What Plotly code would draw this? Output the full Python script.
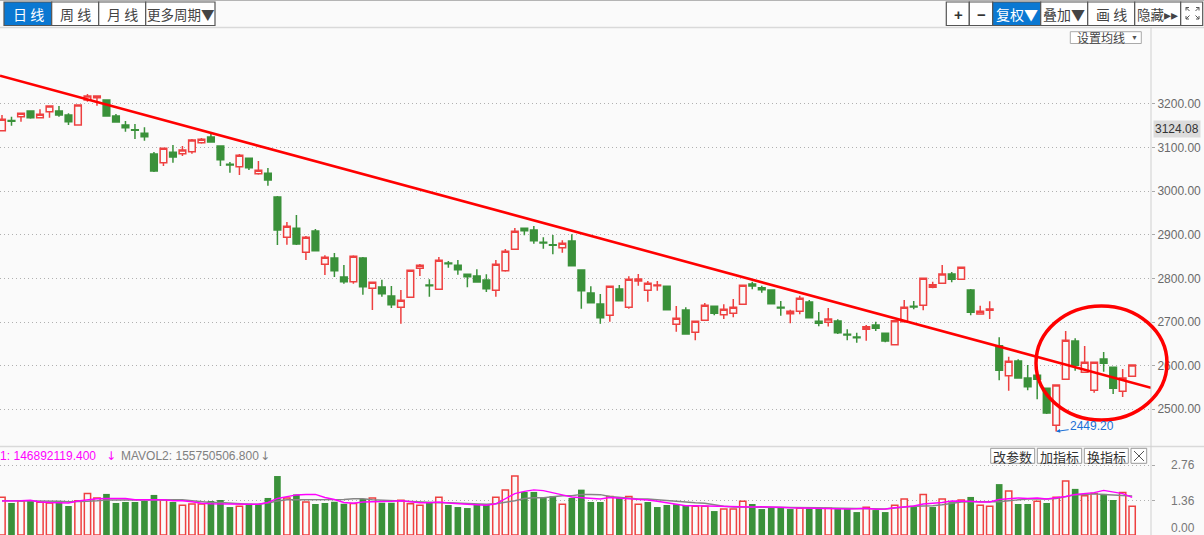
import plotly.graph_objects as go

# ---------------- data ----------------
idx = list(range(120))

opens = [3138.8, 3162.2, 3170.9, 3184.0, 3168.6, 3182.4, 3184.0, 3174.8, 3151.9, 3209.2,
         3214.5, 3209.2, 3172.5, 3151.9, 3141.1, 3132.8, 3085.4, 3065.4, 3089.3, 3086.1,
         3090.7, 3111.3, 3124.4, 3103.7, 3061.8, 3056.3, 3075.5, 3040.2, 3041.1, 2986.8,
         2894.4, 2915.0, 2860.0, 2908.8, 2832.5, 2846.9, 2803.4, 2792.6, 2846.9, 2777.4,
         2780.4, 2759.8, 2733.9, 2756.8, 2823.3, 2785.0, 2775.1, 2835.4, 2830.2, 2809.5,
         2805.6, 2796.5, 2772.8, 2817.8, 2866.9, 2915.0, 2911.1, 2882.9, 2877.4, 2870.5,
         2885.9, 2819.4, 2766.7, 2741.4, 2715.5, 2775.8, 2733.9, 2794.2, 2772.8, 2783.4,
         2782.0, 2694.9, 2727.7, 2676.5, 2704.0, 2736.1, 2716.9, 2720.1, 2740.7, 2787.3,
         2778.8, 2773.5, 2733.9, 2719.2, 2724.7, 2746.0, 2701.8, 2699.5, 2702.4, 2671.9,
         2665.8, 2683.4, 2693.3, 2674.2, 2648.1, 2700.9, 2736.1, 2738.4, 2779.7, 2788.9,
         2810.2, 2798.0, 2773.5, 2718.5, 2727.0, 2645.8, 2577.0, 2610.7, 2571.8, 2577.9,
         2548.2, 2463.3, 2568.8, 2656.6, 2584.8, 2543.5, 2615.3, 2596.3, 2541.2, 2575.7]

highs = [3174.8, 3170.9, 3179.5, 3184.5, 3187.9, 3197.0, 3195.4, 3178.7, 3198.9, 3223.0,
         3219.5, 3210.3, 3177.1, 3161.0, 3154.2, 3146.6, 3090.0, 3099.8, 3106.0, 3103.7,
         3119.8, 3122.1, 3131.9, 3104.9, 3067.0, 3085.4, 3076.2, 3069.3, 3053.3, 2989.1,
         2929.5, 2945.5, 2897.4, 2913.4, 2853.1, 2858.4, 2830.9, 2853.1, 2849.2, 2791.9,
         2797.1, 2782.7, 2773.5, 2819.4, 2833.2, 2798.0, 2849.2, 2840.0, 2842.3, 2810.2,
         2821.0, 2809.5, 2842.3, 2867.5, 2915.7, 2915.7, 2920.3, 2894.4, 2899.6, 2887.5,
         2901.3, 2820.5, 2782.0, 2764.4, 2782.7, 2785.0, 2804.9, 2810.2, 2794.2, 2794.2,
         2782.7, 2736.8, 2733.9, 2702.4, 2743.7, 2736.8, 2740.7, 2752.9, 2785.0, 2792.6,
         2783.4, 2775.1, 2748.3, 2728.4, 2760.5, 2750.6, 2723.1, 2732.3, 2706.3, 2683.4,
         2675.6, 2693.3, 2700.9, 2674.9, 2703.6, 2750.6, 2748.3, 2801.0, 2792.6, 2830.9,
         2814.8, 2826.3, 2775.8, 2737.5, 2747.6, 2665.1, 2620.6, 2614.6, 2601.6, 2578.6,
         2548.9, 2556.4, 2679.5, 2662.8, 2645.1, 2608.4, 2631.4, 2597.0, 2592.4, 2602.3]

lows = [3137.0, 3150.3, 3159.4, 3166.3, 3167.5, 3168.6, 3170.9, 3151.9, 3150.3, 3205.3,
        3196.1, 3171.4, 3157.1, 3136.5, 3119.8, 3115.9, 3044.1, 3057.9, 3065.4, 3080.8,
        3086.1, 3109.0, 3111.8, 3057.9, 3042.5, 3037.2, 3048.7, 3037.9, 3012.7, 2876.7,
        2877.4, 2876.7, 2842.3, 2863.0, 2807.9, 2803.4, 2788.0, 2788.0, 2762.8, 2727.7,
        2758.2, 2732.3, 2696.3, 2756.3, 2805.6, 2758.2, 2774.7, 2824.7, 2808.6, 2779.7,
        2790.3, 2768.9, 2758.2, 2815.5, 2866.4, 2899.0, 2879.7, 2868.2, 2855.4, 2859.1,
        2828.6, 2730.7, 2743.7, 2696.3, 2700.9, 2748.3, 2730.7, 2783.4, 2746.7, 2771.9,
        2727.0, 2677.9, 2671.0, 2658.2, 2702.4, 2715.5, 2707.1, 2711.0, 2740.3, 2775.1,
        2767.3, 2741.4, 2714.6, 2697.2, 2717.8, 2709.3, 2690.3, 2689.8, 2672.6, 2658.2,
        2652.7, 2657.3, 2679.5, 2653.6, 2647.4, 2700.2, 2729.3, 2727.0, 2777.4, 2788.4,
        2791.2, 2797.6, 2715.5, 2717.8, 2707.1, 2566.5, 2542.6, 2571.1, 2543.5, 2522.9,
        2489.2, 2449.2, 2568.3, 2588.5, 2584.4, 2538.1, 2586.2, 2535.1, 2528.2, 2575.2]

closes = [3164.9, 3160.4, 3178.7, 3168.6, 3176.4, 3195.4, 3174.8, 3159.4, 3197.7, 3218.4,
          3218.4, 3172.5, 3158.7, 3145.7, 3139.7, 3125.0, 3046.4, 3098.5, 3078.5, 3094.6,
          3117.5, 3119.1, 3112.9, 3072.3, 3060.2, 3082.4, 3054.0, 3048.0, 3025.8, 2911.1,
          2919.6, 2879.0, 2894.4, 2863.7, 2848.5, 2817.8, 2792.6, 2850.8, 2781.1, 2791.2,
          2765.0, 2739.8, 2749.9, 2818.7, 2830.2, 2783.4, 2841.6, 2833.8, 2820.1, 2804.0,
          2791.9, 2776.5, 2832.5, 2862.3, 2908.2, 2909.5, 2886.6, 2881.3, 2876.0, 2880.6,
          2829.3, 2771.9, 2744.4, 2709.9, 2782.0, 2749.0, 2798.0, 2798.8, 2788.9, 2785.0,
          2728.4, 2708.6, 2672.6, 2701.8, 2738.4, 2720.1, 2729.3, 2733.9, 2784.3, 2782.7,
          2774.2, 2742.1, 2732.3, 2724.7, 2754.5, 2709.9, 2697.2, 2707.1, 2675.6, 2670.4,
          2664.1, 2689.4, 2685.7, 2656.6, 2703.1, 2733.9, 2734.5, 2800.4, 2785.7, 2810.2,
          2798.0, 2825.6, 2722.4, 2724.7, 2730.0, 2589.4, 2610.0, 2571.8, 2551.8, 2568.8,
          2491.5, 2555.8, 2658.2, 2600.9, 2607.8, 2607.8, 2605.5, 2548.2, 2571.8, 2601.6]

# volume in units of 1e8 shares
volume = [1.50, 1.27, 1.35, 1.36, 1.30, 1.27, 1.30, 1.15, 1.36, 1.65,
          1.47, 1.63, 1.27, 1.31, 1.31, 1.36, 1.59, 1.39, 1.31, 1.18,
          1.23, 1.23, 1.35, 1.39, 1.11, 1.14, 1.24, 1.22, 1.47, 2.34,
          1.47, 1.61, 1.31, 1.23, 1.27, 1.32, 1.24, 1.25, 1.43, 1.47,
          1.28, 1.28, 1.38, 1.24, 1.18, 1.28, 1.50, 1.19, 1.11, 1.07,
          1.23, 1.19, 1.50, 1.79, 2.34, 1.71, 1.71, 1.50, 1.54, 1.22,
          1.47, 1.80, 1.31, 1.31, 1.53, 1.48, 1.53, 1.22, 1.31, 1.11,
          1.19, 1.22, 1.16, 1.14, 1.14, 0.95, 1.03, 1.03, 1.34, 1.23,
          1.03, 1.11, 1.11, 1.03, 1.06, 1.06, 1.06, 1.06, 1.06, 1.06,
          0.91, 1.10, 0.99, 0.91, 1.18, 1.43, 1.11, 1.61, 1.11, 1.43,
          1.30, 1.39, 1.51, 1.18, 1.14, 2.02, 1.75, 1.23, 1.23, 1.34,
          1.27, 1.50, 2.14, 1.83, 1.56, 1.65, 1.63, 1.39, 1.69, 1.14]

# 1 = red (up) volume bar, 0 = green (down)
volume_up = [1, 0, 1, 0, 1, 1, 0, 0, 1, 1,
             1, 0, 0, 0, 0, 0, 0, 1, 0, 1,
             1, 1, 0, 0, 0, 1, 0, 0, 0, 0,
             1, 0, 1, 0, 0, 0, 0, 1, 0, 1,
             0, 0, 1, 1, 1, 0, 1, 0, 0, 0,
             0, 0, 1, 1, 1, 0, 0, 0, 0, 1,
             0, 0, 0, 0, 1, 0, 1, 1, 0, 0,
             0, 0, 0, 1, 1, 0, 1, 1, 1, 0,
             0, 0, 0, 0, 1, 0, 0, 1, 0, 0,
             0, 1, 0, 0, 1, 1, 0, 1, 0, 1,
             0, 1, 0, 1, 1, 0, 1, 0, 0, 1,
             0, 1, 1, 0, 1, 1, 0, 0, 1, 1]

mavol1 = [1.35, 1.35, 1.36, 1.38, 1.31, 1.29, 1.28, 1.27, 1.35, 1.39,
          1.44, 1.45, 1.45, 1.45, 1.40, 1.40, 1.40, 1.40, 1.36, 1.36,
          1.32, 1.26, 1.24, 1.23, 1.22, 1.22, 1.22, 1.22, 1.29, 1.45,
          1.53, 1.59, 1.61, 1.61, 1.49, 1.41, 1.29, 1.26, 1.31, 1.32,
          1.31, 1.34, 1.36, 1.32, 1.28, 1.28, 1.31, 1.27, 1.23, 1.22,
          1.20, 1.18, 1.24, 1.43, 1.64, 1.73, 1.79, 1.76, 1.69, 1.59,
          1.51, 1.48, 1.46, 1.43, 1.49, 1.47, 1.46, 1.43, 1.39, 1.34,
          1.28, 1.23, 1.16, 1.16, 1.15, 1.12, 1.11, 1.10, 1.11, 1.11,
          1.12, 1.12, 1.10, 1.08, 1.07, 1.07, 1.06, 1.06, 1.04, 1.03,
          1.04, 1.06, 1.02, 1.03, 1.08, 1.11, 1.15, 1.23, 1.26, 1.29,
          1.35, 1.35, 1.34, 1.31, 1.31, 1.41, 1.45, 1.47, 1.45, 1.47,
          1.43, 1.47, 1.53, 1.61, 1.64, 1.68, 1.77, 1.72, 1.64, 1.49]

mavol2 = [1.36, 1.36, 1.36, 1.36, 1.34, 1.34, 1.34, 1.32, 1.32, 1.34,
          1.36, 1.39, 1.39, 1.39, 1.39, 1.40, 1.41, 1.41, 1.41, 1.40,
          1.36, 1.32, 1.29, 1.29, 1.26, 1.23, 1.22, 1.22, 1.27, 1.35,
          1.40, 1.40, 1.40, 1.41, 1.41, 1.41, 1.41, 1.44, 1.44, 1.40,
          1.38, 1.36, 1.34, 1.32, 1.31, 1.29, 1.28, 1.28, 1.27, 1.26,
          1.23, 1.22, 1.24, 1.29, 1.36, 1.45, 1.48, 1.48, 1.53, 1.56,
          1.56, 1.61, 1.61, 1.60, 1.53, 1.49, 1.46, 1.43, 1.43, 1.40,
          1.36, 1.32, 1.31, 1.28, 1.26, 1.19, 1.14, 1.11, 1.11, 1.10,
          1.10, 1.10, 1.10, 1.10, 1.10, 1.08, 1.08, 1.07, 1.06, 1.06,
          1.06, 1.06, 1.04, 1.03, 1.07, 1.12, 1.14, 1.15, 1.16, 1.20,
          1.26, 1.31, 1.32, 1.32, 1.32, 1.32, 1.36, 1.40, 1.43, 1.44,
          1.43, 1.45, 1.52, 1.59, 1.61, 1.63, 1.61, 1.60, 1.57, 1.55]

price_ticks = [2500, 2600, 2700, 2800, 2900, 3000, 3100, 3200]
price_tick_labels = ["2500.00", "2600.00", "2700.00", "2800.00", "2900.00", "3000.00", "3100.00", "3200.00"]
vol_ticks = [0.0, 1.36, 2.76]
vol_tick_labels = ["0.00", "1.36", "2.76"]

trend_x = [-0.21, 120.985]
trend_y = [3264.9, 2549.3]

low_index = 111
low_value = 2449.20
current_label = "3124.08"
mavol1_text = "MAVOL1: 146892119.400"
mavol2_text = "MAVOL2: 155750506.800"

# ---------------- styling ----------------
W, H = 1204, 535
ML, MR, MT, MB = 0, 53, 27, 0
PW = W - ML - MR
PH = H - MT - MB


def xp(px):
    return (px - ML) / PW


def yp(py):
    return (H - MB - py) / PH


RED = '#ee4040'
GREEN = '#3a913a'
BG = '#fafafa'
BLUE = '#0a78d2'
NUM = 'Liberation Sans, Arial, sans-serif'
CJK = 'Noto Sans CJK SC, sans-serif'

fig = go.Figure()

up = [i for i in idx if closes[i] >= opens[i]]
dn = [i for i in idx if closes[i] < opens[i]]


def sub(arr, sel):
    return [arr[i] for i in sel]


fig.add_trace(go.Candlestick(
    x=sub(idx, up), open=sub(opens, up), high=sub(highs, up), low=sub(lows, up), close=sub(closes, up),
    increasing=dict(line=dict(color=RED, width=1.5), fillcolor=BG),
    decreasing=dict(line=dict(color=RED, width=1.5), fillcolor=BG),
    hoverinfo='skip', showlegend=False, xaxis='x', yaxis='y'))
fig.add_trace(go.Candlestick(
    x=sub(idx, dn), open=sub(opens, dn), high=sub(highs, dn), low=sub(lows, dn), close=sub(closes, dn),
    increasing=dict(line=dict(color=GREEN, width=1.5), fillcolor=GREEN),
    decreasing=dict(line=dict(color=GREEN, width=1.5), fillcolor=GREEN),
    hoverinfo='skip', showlegend=False, xaxis='x', yaxis='y'))

fig.add_trace(go.Scatter(x=trend_x, y=trend_y, mode='lines', line=dict(color='#ff0000', width=2.6),
                         hoverinfo='skip', showlegend=False, xaxis='x', yaxis='y'))

vu = [i for i in idx if volume_up[i] == 1]
vd = [i for i in idx if volume_up[i] == 0]
fig.add_trace(go.Bar(x=sub(idx, vu), y=sub(volume, vu), width=0.66,
                     marker=dict(color=BG, line=dict(color=RED, width=1.5)),
                     hoverinfo='skip', showlegend=False, xaxis='x', yaxis='y2'))
fig.add_trace(go.Bar(x=sub(idx, vd), y=sub(volume, vd), width=0.70,
                     marker=dict(color=GREEN, line=dict(width=0)),
                     hoverinfo='skip', showlegend=False, xaxis='x', yaxis='y2'))
fig.add_trace(go.Scatter(x=idx, y=mavol2, mode='lines', line=dict(color='#858585', width=1.4),
                         hoverinfo='skip', showlegend=False, xaxis='x', yaxis='y2'))
fig.add_trace(go.Scatter(x=idx, y=mavol1, mode='lines', line=dict(color='#ff00ff', width=1.4),
                         hoverinfo='skip', showlegend=False, xaxis='x', yaxis='y2'))

shapes = []
annotations = []


def rect(x0, y0, x1, y1, fill, line='#555555', lw=1.2):
    shapes.append(dict(type='rect', xref='paper', yref='paper', x0=xp(x0), x1=xp(x1),
                       y0=yp(y1), y1=yp(y0), fillcolor=fill, line=dict(color=line, width=lw), layer='above'))


def hline(x0, x1, y, color, lw=1):
    shapes.append(dict(type='line', xref='paper', yref='paper', x0=xp(x0), x1=xp(x1), y0=yp(y), y1=yp(y),
                       line=dict(color=color, width=lw), layer='above'))


def seg(x0, y0, x1, y1, color, lw=1):
    shapes.append(dict(type='line', xref='paper', yref='paper', x0=xp(x0), x1=xp(x1), y0=yp(y0), y1=yp(y1),
                       line=dict(color=color, width=lw), layer='above'))


def txt(s, px, py, size=14, color='#444444', family=CJK, anchor='center', bg=None):
    a = dict(text=s, x=xp(px), y=yp(py), xref='paper', yref='paper', showarrow=False,
             xanchor=anchor, yanchor='middle', font=dict(size=size, color=color, family=family))
    if bg:
        a['bgcolor'] = bg
        a['borderpad'] = 1
    annotations.append(a)


# frame lines
hline(0, W, 0.5, '#b4b4b4', 1)
hline(0, W, 27.5, '#d9d9d9', 1.5)
hline(0, W, 446.5, '#d9d9d9', 1.5)
seg(1151, 27, 1151, 535, '#d0d0d0', 1)

# left toolbar
rect(4, 2, 51.7, 25.5, BLUE)
rect(51.7, 2, 98.7, 25.5, '#ffffff')
rect(98.7, 2, 145.7, 25.5, '#ffffff')
rect(145.7, 2, 215, 25.5, '#ffffff')
txt('日 线', 28, 14, color='#ffffff')
txt('周 线', 75, 14)
txt('月 线', 122, 14)
txt('更多周期▼', 180.5, 14, size=13.5)

# right toolbar
rect(946.3, 2, 969.3, 25.5, '#ffffff')
rect(969.3, 2, 992.7, 25.5, '#ffffff')
rect(992.7, 2, 1040.7, 25.5, BLUE)
rect(1040.7, 2, 1087.7, 25.5, '#ffffff')
rect(1087.7, 2, 1134.7, 25.5, '#ffffff')
rect(1134.7, 2, 1180.7, 25.5, '#ffffff')
rect(1180.7, 2, 1202.7, 25.5, '#ffffff')
txt('<b>+</b>', 958, 14, size=15, color='#333333', family=NUM)
txt('<b>−</b>', 981, 14, size=15, color='#333333', family=NUM)
txt('复权▼', 1017, 14, color='#ffffff')
txt('叠加▼', 1064, 14)
txt('画 线', 1111, 14)
txt('隐藏▸▸', 1157.5, 14, size=13.5)
# fullscreen icon
for (ax0, ay0, ax1, ay1) in [(1186, 10.5, 1186, 7.5), (1186, 7.5, 1189, 7.5), (1186, 7.5, 1189.5, 11),
                             (1199, 10.5, 1199, 7.5), (1199, 7.5, 1196, 7.5), (1199, 7.5, 1195.5, 11),
                             (1186, 16, 1186, 19), (1186, 19, 1189, 19), (1186, 19, 1189.5, 15.5),
                             (1199, 16, 1199, 19), (1199, 19, 1196, 19), (1199, 19, 1195.5, 15.5)]:
    seg(ax0, ay0, ax1, ay1, '#555555', 1)

# moving-average settings button
rect(1070.3, 31.7, 1141.3, 43.5, '#ffffff', '#aaaaaa', 1)
txt('设置均线', 1101, 37.6, size=12, color='#444444')
txt('▼', 1134, 37.6, size=7, color='#555555', family=NUM)

# indicator buttons
rect(990.7, 448.3, 1034.7, 463.3, '#ffffff', '#999999', 1)
rect(1037.3, 448.3, 1081.7, 463.3, '#ffffff', '#999999', 1)
rect(1084.3, 448.3, 1128.3, 463.3, '#ffffff', '#999999', 1)
rect(1131, 448.3, 1146.7, 463.3, '#ffffff', '#999999', 1)
txt('改参数', 1012.7, 456, size=13, color='#333333')
txt('加指标', 1059.5, 456, size=13, color='#333333')
txt('换指标', 1106.3, 456, size=13, color='#333333')
seg(1134, 451, 1144, 461, '#555555', 1)
seg(1144, 451, 1134, 461, '#555555', 1)

# volume legend
txt(mavol1_text, 98, 455.5, size=12, color='#ff00ff', family=NUM, anchor='right')
txt('↓', 110.5, 455.5, size=12, color='#ff00ff', family='DejaVu Sans')
txt(mavol2_text, 119, 455.5, size=12, color='#808080', family=NUM, anchor='left')
txt('↓', 265, 455.5, size=12, color='#808080', family='DejaVu Sans')

# volume axis labels
for v, lab in zip(vol_ticks, vol_tick_labels):
    ypx = H - v * 25.2
    if v == 0:
        ypx = 528.3
    txt(lab, 1197, ypx, size=12, color='#777777', family=NUM, anchor='right')

# current value box
txt(current_label, 1153, 128.5, size=12, color='#333333', family=NUM, anchor='left', bg='#dcdcdc')

# ellipse highlight
shapes.append(dict(type='circle', xref='paper', yref='paper', x0=xp(1036), x1=xp(1167), y0=yp(420), y1=yp(306),
                   line=dict(color='#ff0000', width=3.5), fillcolor='rgba(0,0,0,0)', layer='above'))

# lowest point label
annotations.append(dict(x=low_index, y=low_value, xref='x', yref='y', text='2449.20', showarrow=True,
                        arrowhead=2, arrowsize=0.8, arrowwidth=1, arrowcolor='#1a6fd6',
                        ax=36, ay=-5, xanchor='center', yanchor='middle',
                        font=dict(size=12, color='#1a6fd6', family=NUM)))

fig.update_layout(
    width=W, height=H, margin=dict(l=ML, r=MR, t=MT, b=MB, pad=0),
    paper_bgcolor=BG, plot_bgcolor=BG, showlegend=False, barmode='overlay',
    boxgap=0.3, boxgroupgap=0,
    xaxis=dict(range=[-0.2106, 120.985], showticklabels=False, showgrid=False, zeroline=False,
               rangeslider=dict(visible=False), anchor='y2', ticks='', showline=False),
    yaxis=dict(domain=[yp(446), 1], range=[2415.8, 3376.5], side='right', anchor='x',
               tickvals=price_ticks, ticktext=price_tick_labels,
               showgrid=True, gridcolor='#b0b0b0', griddash='1px,3px', gridwidth=1,
               ticks='outside', ticklen=3, tickcolor='#aaaaaa', tickwidth=1,
               tickfont=dict(family=NUM, size=12, color='#6a6a6a'),
               zeroline=False, showline=False),
    yaxis2=dict(domain=[0, yp(447)], range=[0, 3.492], side='right', anchor='x',
                tickvals=vol_ticks, showticklabels=False,
                showgrid=True, gridcolor='#b0b0b0', griddash='1px,3px', gridwidth=1,
                ticks='outside', ticklen=3, tickcolor='#aaaaaa',
                zeroline=False, showline=False),
    shapes=shapes, annotations=annotations,
)

fig.write_html("out.html")
